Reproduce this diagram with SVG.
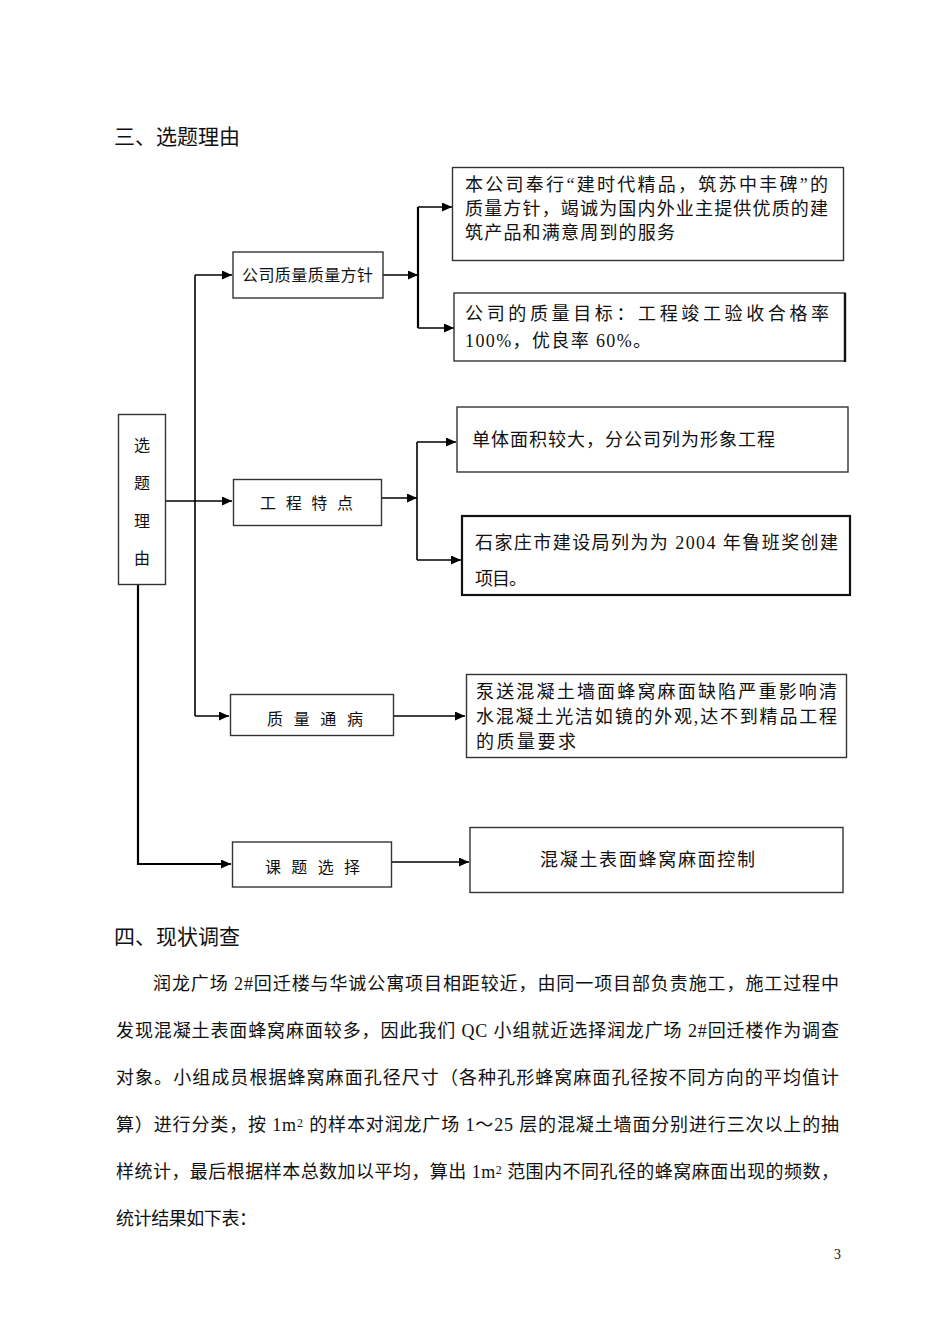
<svg xmlns="http://www.w3.org/2000/svg" width="950" height="1344" viewBox="0 0 950 1344">
<style>
text{font-family:"Liberation Serif","Noto Sans CJK SC",serif;fill:#111;}
.h{font-size:21px;}
.b{font-size:18px;}
.s{font-size:16px;}
.p{font-size:18px;}
.box{fill:#fff;stroke:#333;stroke-width:1.4;}
.thick{fill:#fff;stroke:#111;stroke-width:2.2;}
.c{fill:none;stroke:#000;stroke-width:1.6;}
.c2{fill:none;stroke:#000;stroke-width:2.2;}
</style>
<defs>
<marker id="ah" markerUnits="userSpaceOnUse" markerWidth="10" markerHeight="9" refX="10" refY="4.5" orient="auto">
<path d="M0,0 L10,4.5 L0,9 z" fill="#000"/>
</marker>
</defs>
<rect width="950" height="1344" fill="#fff"/>

<text class="h" x="114" y="144">三、选题理由</text>

<g id="connectors">
<path class="c" d="M165,501 H232" marker-end="url(#ah)"/>
<path class="c" d="M195,275 V716"/>
<path class="c" d="M195,275 H232" marker-end="url(#ah)"/>
<path class="c" d="M195,716 H229" marker-end="url(#ah)"/>
<path class="c2" d="M138,585 V864 H231" marker-end="url(#ah)"/>
<path class="c" d="M383,275 H418" marker-end="url(#ah)"/>
<path class="c2" d="M418,207 V328"/>
<path class="c" d="M418,207 H452" marker-end="url(#ah)"/>
<path class="c" d="M418,328 H454" marker-end="url(#ah)"/>
<path class="c" d="M382,498 H417" marker-end="url(#ah)"/>
<path class="c" d="M417,442 V560"/>
<path class="c" d="M417,442 H456" marker-end="url(#ah)"/>
<path class="c" d="M417,560 H461" marker-end="url(#ah)"/>
<path class="c" d="M393,716 H465" marker-end="url(#ah)"/>
<path class="c" d="M392,862 H469" marker-end="url(#ah)"/>
</g>

<g id="n-root">
<rect class="box" x="118.5" y="414.5" width="47" height="170"/>
<text class="s" x="142" y="451" text-anchor="middle">选</text>
<text class="s" x="142" y="489" text-anchor="middle">题</text>
<text class="s" x="142" y="527" text-anchor="middle">理</text>
<text class="s" x="142" y="564" text-anchor="middle">由</text>
</g>

<g id="n-policy">
<rect class="box" x="233" y="252" width="150" height="46"/>
<text class="s" x="242" y="281" textLength="131" lengthAdjust="spacing">公司质量质量方针</text>
</g>

<g id="n-policy1">
<rect class="box" x="452.5" y="167.5" width="391" height="93"/>
<text class="b" x="465" y="191" textLength="363" lengthAdjust="spacing">本公司奉行“建时代精品，筑苏中丰碑”的</text>
<text class="b" x="465" y="215" textLength="363" lengthAdjust="spacing">质量方针，竭诚为国内外业主提供优质的建</text>
<text class="b" x="465" y="239" textLength="210" lengthAdjust="spacing">筑产品和满意周到的服务</text>
</g>

<g id="n-policy2">
<rect class="box" x="454" y="293" width="391" height="68"/>
<path d="M845,293 V362" stroke="#111" stroke-width="2.4"/>
<text class="b" x="465" y="320" textLength="364" lengthAdjust="spacing">公司的质量目标：工程竣工验收合格率</text>
<text class="b" x="465" y="347" textLength="186" lengthAdjust="spacing">100%，优良率 60%。</text>
</g>

<g id="n-feature">
<rect class="box" x="233.5" y="479.5" width="148" height="46"/>
<text class="s" x="260" y="509" textLength="93" lengthAdjust="spacing">工 程 特 点</text>
</g>

<g id="n-feature1">
<rect class="box" x="457" y="407" width="391" height="65"/>
<text class="b" x="472" y="446" textLength="303" lengthAdjust="spacing">单体面积较大，分公司列为形象工程</text>
</g>

<g id="n-feature2">
<rect class="thick" x="462" y="516" width="388" height="79"/>
<text class="b" x="475" y="549" textLength="363" lengthAdjust="spacing">石家庄市建设局列为为 2004 年鲁班奖创建</text>
<text class="b" x="475" y="585" textLength="52" lengthAdjust="spacing">项目。</text>
</g>

<g id="n-defect">
<rect class="box" x="230.5" y="694.5" width="163" height="41"/>
<text class="s" x="267" y="725" textLength="96" lengthAdjust="spacing">质 量 通 病</text>
</g>

<g id="n-defect1">
<rect class="box" x="466.5" y="674.5" width="380" height="83"/>
<text class="b" x="476" y="698" textLength="361" lengthAdjust="spacing">泵送混凝土墙面蜂窝麻面缺陷严重影响清</text>
<text class="b" x="476" y="723" textLength="361" lengthAdjust="spacing">水混凝土光洁如镜的外观,达不到精品工程</text>
<text class="b" x="476" y="748" textLength="100" lengthAdjust="spacing">的质量要求</text>
</g>

<g id="n-topic">
<rect class="box" x="232.5" y="842" width="159" height="45"/>
<text class="s" x="265" y="873" textLength="95" lengthAdjust="spacing">课 题 选 择</text>
</g>

<g id="n-topic1">
<rect class="box" x="470" y="827.5" width="373" height="65"/>
<text class="b" x="540" y="866" textLength="215" lengthAdjust="spacing">混凝土表面蜂窝麻面控制</text>
</g>

<text class="h" x="114" y="944">四、现状调查</text>

<g id="para">
<text class="p" x="153" y="990" textLength="686" lengthAdjust="spacing">润龙广场 2#回迁楼与华诚公寓项目相距较近，由同一项目部负责施工，施工过程中</text>
<text class="p" x="116" y="1037" textLength="723" lengthAdjust="spacing">发现混凝土表面蜂窝麻面较多，因此我们 QC 小组就近选择润龙广场 2#回迁楼作为调查</text>
<text class="p" x="116" y="1084" textLength="723" lengthAdjust="spacing">对象。小组成员根据蜂窝麻面孔径尺寸（各种孔形蜂窝麻面孔径按不同方向的平均值计</text>
<text class="p" x="116" y="1131" textLength="723" lengthAdjust="spacing">算）进行分类，按 1m<tspan font-size="12" dy="-4">2</tspan><tspan dy="4"> 的样本对润龙广场 1～25 层的混凝土墙面分别进行三次以上的抽</tspan></text>
<text class="p" x="116" y="1178" textLength="723" lengthAdjust="spacing">样统计，最后根据样本总数加以平均，算出 1m<tspan font-size="12" dy="-4">2</tspan><tspan dy="4"> 范围内不同孔径的蜂窝麻面出现的频数，</tspan></text>
<text class="p" x="116" y="1225" textLength="141" lengthAdjust="spacing">统计结果如下表：</text>
</g>

<text x="834" y="1259" font-size="14">3</text>
</svg>
